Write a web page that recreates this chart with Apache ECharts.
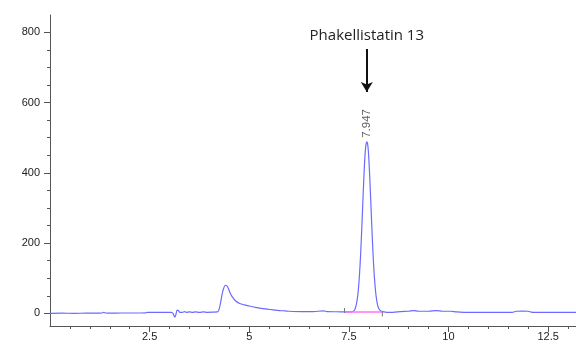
<!DOCTYPE html>
<html>
<head>
<meta charset="utf-8">
<script src="https://cdn.jsdelivr.net/npm/echarts@6/dist/echarts.min.js"></script>
<style>
  html, body { margin: 0; padding: 0; background: #fff; }
  #chart { width: 576px; height: 344px; }
</style>
</head>
<body>
<div id="chart"></div>
<script>
// retention time (min) and detector response
const traceTime = [
  0.00, 0.30, 0.60, 0.90, 1.20, 1.30, 1.35, 1.40, 1.50, 1.80, 2.10, 2.40, 2.45, 2.70, 2.95,
  3.05, 3.09, 3.13, 3.16, 3.19, 3.22, 3.26, 3.32, 3.38, 3.42, 3.50, 3.58, 3.65, 3.75, 3.85, 3.95,
  4.10, 4.20, 4.24, 4.28, 4.32, 4.36, 4.40, 4.44, 4.48, 4.52, 4.58, 4.66, 4.76, 4.88,
  5.00, 5.15, 5.30, 5.45, 5.60, 5.75, 5.90, 6.00, 6.30, 6.60, 6.86, 6.95, 7.20, 7.40, 7.55,
  7.61, 7.65, 7.67, 7.69, 7.71, 7.73, 7.75, 7.77, 7.79, 7.81, 7.83, 7.85, 7.87, 7.89, 7.91, 7.93,
  7.95, 7.97, 7.99, 8.01, 8.03, 8.05, 8.07, 8.09, 8.11, 8.13, 8.15, 8.17, 8.19, 8.21, 8.23, 8.25,
  8.28, 8.32, 8.38, 8.45, 8.60, 8.80, 9.00, 9.12, 9.25, 9.50, 9.70, 9.85, 10.05, 10.20, 10.37,
  10.80, 11.20, 11.60, 11.70, 11.85, 12.00, 12.10, 12.50, 12.90, 13.20
];
const traceSignal = [
  0, 0.5, 0, 0.5, 0.5, 1, 2.5, 1, 0.5, 1, 1, 1.5, 3, 3, 3,
  3, -1, -11, -3, 9, 8, 3, 3, 5, 3, 4, 3, 4, 3, 4, 3,
  3.5, 4, 10, 30, 55, 72, 80, 78, 70, 58, 46, 35, 28, 24,
  21, 17, 14, 12, 10, 8, 7, 6, 5, 5, 7, 5, 4.5, 4, 4,
  6, 11, 18, 27, 40, 58, 84, 116, 157, 205, 258, 314, 369, 419, 458, 480,
  488, 483, 460, 421, 372, 318, 263, 210, 162, 121, 89, 63, 44, 30, 20, 14,
  9, 6, 4, 3, 3, 5, 6, 8, 6, 6, 8, 6, 6, 4, 3,
  3, 3, 3, 6, 6.5, 6, 3, 2.5, 2.5, 2.5
];

const xRange = [0, 13.2];
const yRange = [-36, 849];
const xLabelValues = [2.5, 5, 7.5, 10, 12.5];
const xMinorTicks = [0.5, 1, 1.5, 2, 3, 3.5, 4, 4.5, 5.5, 6, 6.5, 7, 8, 8.5, 9, 9.5, 10.5, 11, 11.5, 12, 13];
const yLabelValues = [0, 200, 400, 600, 800];
const yMinorTicks = [50, 100, 150, 250, 300, 350, 450, 500, 550, 650, 700, 750];

const peakTime = 7.95;
const peakSignal = 488;
const peakLabel = '7.947';
const compoundName = 'Phakellistatin 13';
const arrowStart = [7.95, 752];
const arrowEnd = [7.95, 630];

const integrationBaseline = [[7.41, 4], [8.33, 4]];
const integrationMarks = [[7.39, 8], [8.34, -2]];

const trace = traceTime.map((t, i) => [t, traceSignal[i]]);

const axisColor = '#555';
const labelFont = 'Liberation Sans';

const chart = echarts.init(document.getElementById('chart'));

const option = {
  animation: false,
  grid: { left: 50, right: 0, top: 15, bottom: 18 },
  xAxis: [
    {
      type: 'value',
      min: xRange[0],
      max: xRange[1],
      splitLine: { show: false },
      axisLine: { show: true, onZero: false, lineStyle: { color: axisColor, width: 1 } },
      axisTick: { show: true, length: 6, customValues: xLabelValues, lineStyle: { color: axisColor } },
      axisLabel: {
        customValues: xLabelValues,
        margin: 5,
        color: '#222',
        fontFamily: labelFont,
        fontSize: 11,
      },
    },
    {
      type: 'value',
      position: 'bottom',
      min: xRange[0],
      max: xRange[1],
      splitLine: { show: false },
      axisLine: { show: false, onZero: false },
      axisTick: { show: true, length: 3, customValues: xMinorTicks, lineStyle: { color: axisColor } },
      axisLabel: { show: false },
    },
  ],
  yAxis: [
    {
      type: 'value',
      min: yRange[0],
      max: yRange[1],
      splitLine: { show: false },
      axisLine: { show: true, onZero: false, lineStyle: { color: axisColor, width: 1 } },
      axisTick: { show: true, length: 6, customValues: yLabelValues, lineStyle: { color: axisColor } },
      axisLabel: {
        customValues: yLabelValues,
        margin: 10,
        color: '#222',
        fontFamily: labelFont,
        fontSize: 11,
      },
    },
    {
      type: 'value',
      position: 'left',
      min: yRange[0],
      max: yRange[1],
      splitLine: { show: false },
      axisLine: { show: false, onZero: false },
      axisTick: { show: true, length: 3, customValues: yMinorTicks, lineStyle: { color: axisColor } },
      axisLabel: { show: false },
    },
  ],
  series: [
    {
      name: 'trace',
      type: 'line',
      data: trace,
      showSymbol: false,
      smooth: 0.3,
      lineStyle: { color: '#6b6bff', width: 1.2 },
      markLine: {
        silent: true,
        symbol: ['none', 'arrow'],
        symbolSize: [9, 10],
        lineStyle: { color: '#111', width: 2, type: 'solid' },
        label: {
          show: true,
          position: 'start',
          distance: 6,
          formatter: compoundName,
          color: '#222',
          fontFamily: 'Open Sans',
          fontSize: 15,
        },
        data: [[{ coord: arrowStart }, { coord: arrowEnd }]],
      },
    },
    {
      name: 'integration',
      type: 'line',
      data: integrationBaseline,
      showSymbol: false,
      lineStyle: { color: '#ff70ff', width: 1.5 },
    },
    {
      name: 'marks',
      type: 'scatter',
      data: integrationMarks,
      symbol: 'rect',
      symbolSize: [1, 5],
      itemStyle: { color: '#555' },
    },
    {
      name: 'peak label',
      type: 'scatter',
      data: [[peakTime, peakSignal]],
      symbolSize: 0,
      label: {
        show: true,
        position: 'top',
        distance: 4,
        rotate: 90,
        align: 'left',
        verticalAlign: 'middle',
        formatter: peakLabel,
        color: '#333',
        fontFamily: labelFont,
        fontSize: 11.5,
      },
    },
  ],
};

chart.setOption(option);
</script>
</body>
</html>
